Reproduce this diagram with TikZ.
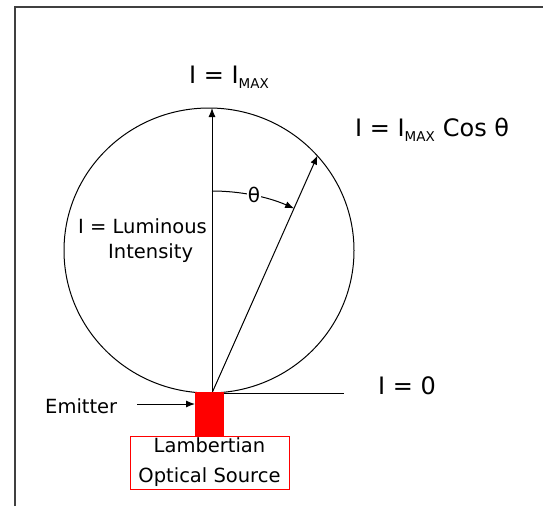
\documentclass[tikz,border=0pt]{standalone}
\usepackage{fontspec}
\setmainfont{DejaVu Sans}
\usetikzlibrary{arrows.meta}
\newcommand\mysub[1]{\raisebox{-5.5pt}{\fontsize{13.5}{14}\selectfont #1}}
\begin{document}
\begin{tikzpicture}[x=1pt,y=-1pt,
  lbl/.style={inner sep=0pt,font=\fontsize{19.5}{30}\selectfont},
  eq/.style={inner sep=0pt,font=\fontsize{24}{28}\selectfont},
  arr/.style={-{Latex[length=9pt,width=7pt]},line width=1pt},
  ln/.style={line width=1pt},
  ]
\useasboundingbox (0,0) rectangle (543,506);
\fill[white] (0,0) rectangle (543,506);
% frame
\coordinate (fbl) at (15,506);
\coordinate (ftl) at (15,7);
\coordinate (ftr) at (543,7);
\draw[line width=1.8pt,draw=black!75] (fbl) -- (ftl) -- (ftr);
% circle
\draw[ln] (209,250.5) ellipse [x radius=145, y radius=142.5];
% key points
\coordinate (O) at (212,393);
\coordinate (T) at (212,108);
\coordinate (P) at (317.5,155.5);
\coordinate (H1) at (224,393.5);
\coordinate (H2) at (344,393.5);
\coordinate (A0) at (212,191);
% arrows
\draw[arr] (O) -- (T);
\draw[arr] (O) -- (P);
\draw[ln] (H1) -- (H2);
\draw[arr] (A0) arc[start angle=-90,end angle=-66,radius=202]
  node[pos=0.5,fill=white,inner sep=0.5pt,font=\fontsize{20}{24}\selectfont] (th) {θ};
% emitter
\node[fill=red,minimum width=29pt,minimum height=44pt,inner sep=0pt,anchor=north west] (em) at (195,392) {};
\node[draw=red,line width=1pt,minimum width=159pt,minimum height=53pt,align=center,lbl] (src) at (209.5,462.5) {Lambertian\\Optical Source};
\node[lbl,anchor=base west] (emt) at (45,413) {Emitter};
\coordinate (ea) at (137,404);
\draw[arr] (ea) -- (ea -| em.west);
% labels
\node[eq,anchor=base west] (imax) at (189,83) {I = I\mysub{MAX}};
\node[eq,anchor=base west] (icos) at (355,136) {I = I\mysub{MAX}\,\,Cos θ};
\node[eq,anchor=base west] (izero) at (378,394) {I = 0};
\node[lbl,anchor=base east] (lum) at (207,233) {I = Luminous};
\node[lbl,anchor=base west] (int) at (108,258) {Intensity};
\end{tikzpicture}
\end{document}
